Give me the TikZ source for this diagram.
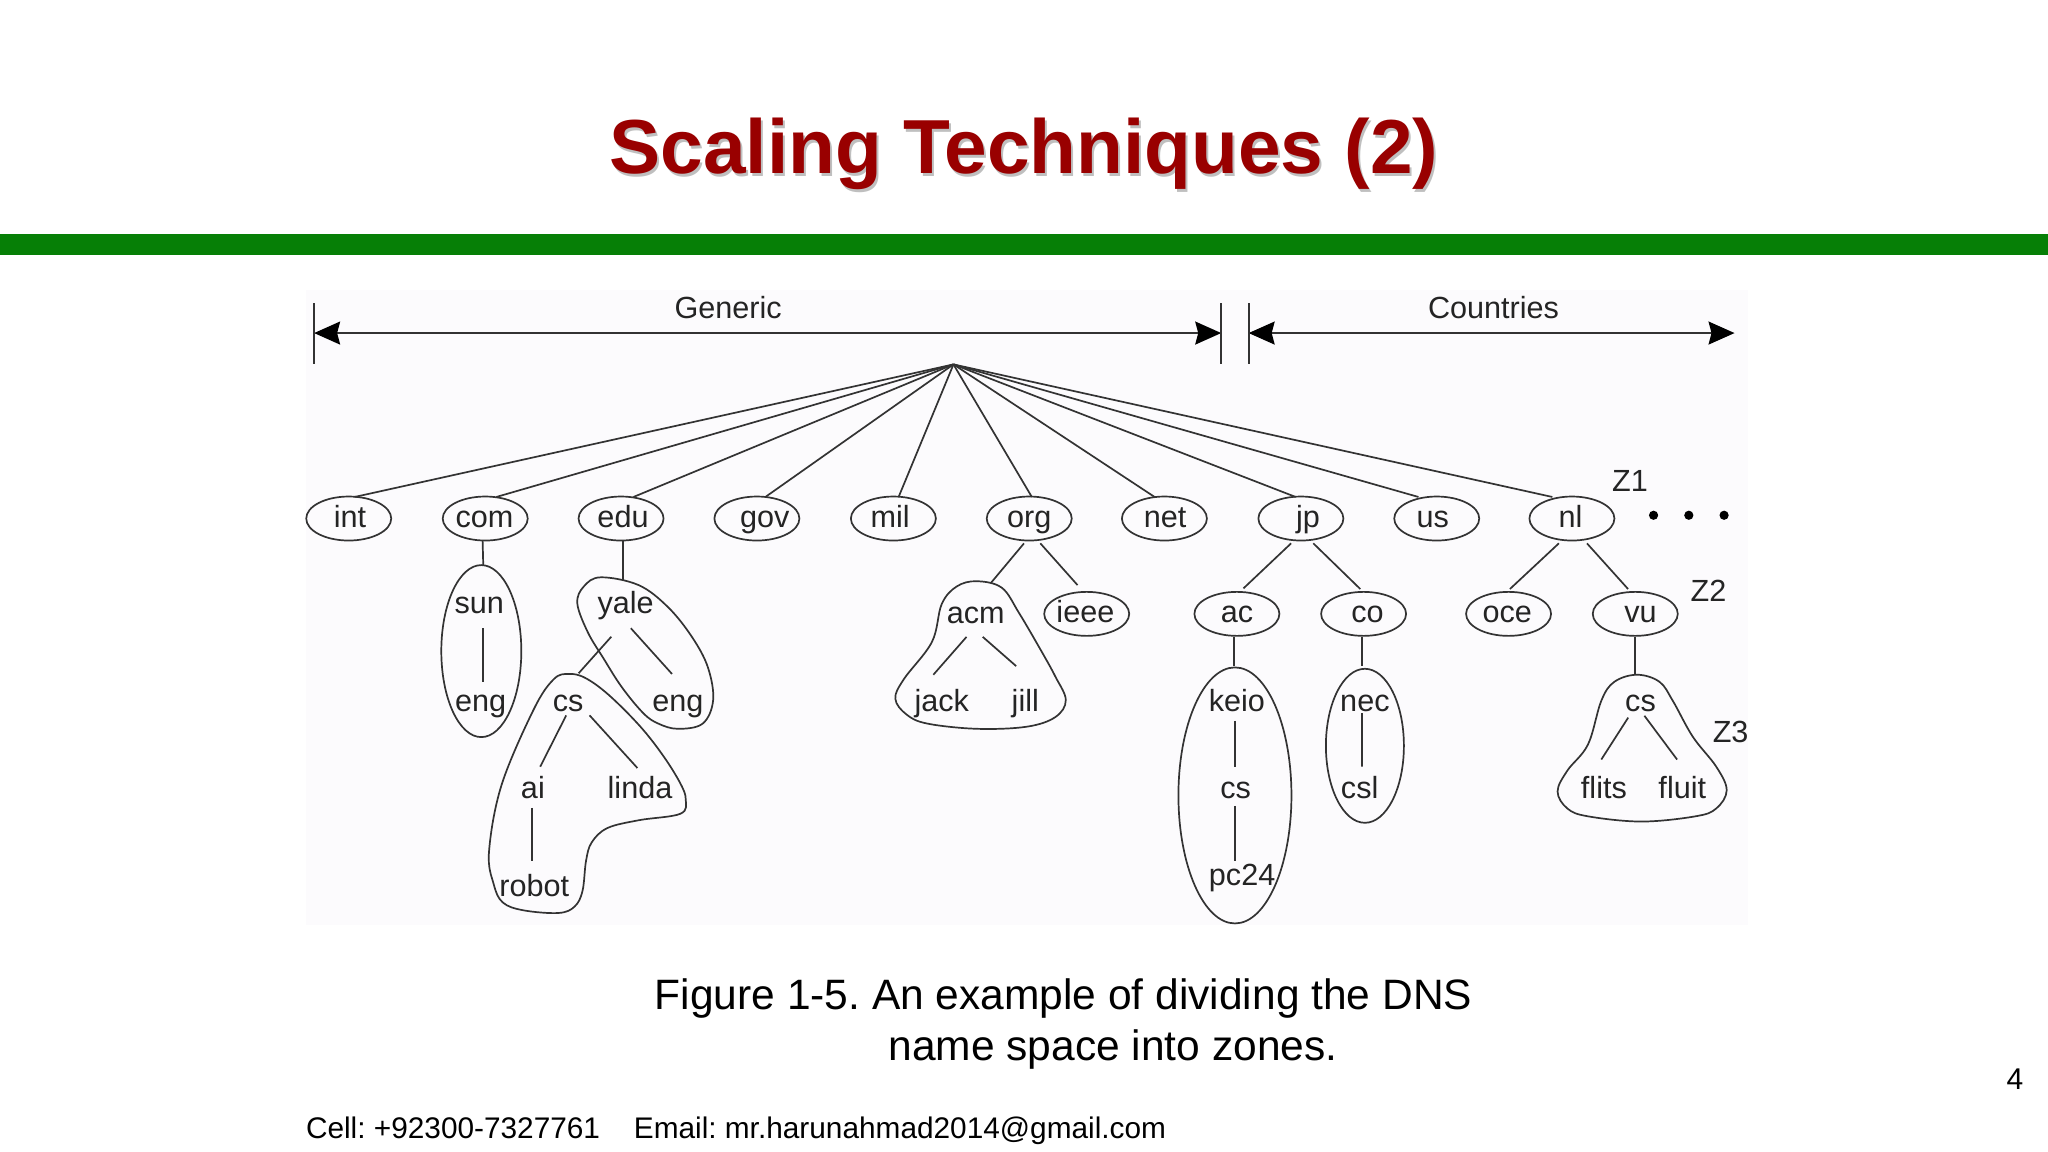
\documentclass[tikz,border=0pt]{standalone}
\usepackage{fontspec}
\setmainfont{Liberation Sans}
\frenchspacing
\usetikzlibrary{arrows.meta,calc,shapes.geometric}
\definecolor{ink}{HTML}{333333}
\definecolor{panel}{HTML}{FCFBFD}
\definecolor{titlered}{HTML}{990000}
\definecolor{barGreen}{HTML}{067F06}
\tikzset{
  ell/.style={draw=ink,line width=0.85pt,ellipse,inner sep=0pt,minimum width=42.5pt,minimum height=22pt},
  zoneell/.style={draw=ink,line width=0.85pt,ellipse,inner sep=0pt},
  lab/.style={text=ink!70!black,inner sep=0pt,font=\fontsize{15.3}{18}\selectfont,text height=12pt,text depth=2pt},
  wire/.style={draw=ink,line width=0.85pt},
  zone/.style={draw=ink,line width=0.85pt},
  span/.style={draw=ink,line width=0.85pt,{Stealth[length=13pt,width=11.5pt,inset=1.5pt,color=black]}-{Stealth[length=13pt,width=11.5pt,inset=1.5pt,color=black]}},
  slidetext/.style={text=black,inner sep=0pt,anchor=base west},
}
\newcommand{\domain}[5]{\node[ell] (#1) at (#2,#3) {}; \node[lab] (#1t) at (#2+#5,#3-1) {#4};}
\newcommand{\leaf}[4]{\node[lab] (#1) at (#2,#3) {#4};}
\begin{document}
\begin{tikzpicture}[x=0.653pt,y=-0.653pt]
\useasboundingbox (0,0) rectangle (1568,882);
\fill[white] (0,0) rectangle (1568,882);
\fill[barGreen] (0,179) rectangle (1568,195);
\fill[panel] (234,222) rectangle (1338,708);

% title
\node[text=black!25,inner sep=0pt,font=\fontsize{38.3}{44}\bfseries\selectfont] (titleshadow) at (785.5,120) {Scaling Techniques (2)};
\node[text=titlered,inner sep=0pt,font=\fontsize{38.3}{44}\bfseries\selectfont] (title) at (784,118) {Scaling Techniques (2)};

% span arrows
\coordinate (gl) at (240.5,255); \coordinate (gr) at (935,255);
\coordinate (cl) at (956,255);   \coordinate (cr) at (1328,255);
\draw[span] (gl) -- (gr);
\draw[span] (cl) -- (cr);
\draw[wire] ($(gl)+(0,-23)$) -- ($(gl)+(0,24)$);
\draw[wire] ($(gr)+(0,-23)$) -- ($(gr)+(0,24)$);
\draw[wire] ($(cl)+(0,-23)$) -- ($(cl)+(0,24)$);
\leaf{generic}{557.5}{236}{Generic}
\leaf{countries}{1143.5}{236}{Countries}

% top level
\coordinate (root) at (730,279);
\domain{int}{267}{397}{int}{1}
\domain{com}{371.5}{397}{com}{-0.5}
\domain{edu}{475.5}{397}{edu}{1.5}
\domain{gov}{579.5}{397}{gov}{6}
\domain{mil}{684}{397}{mil}{-2.5}
\domain{org}{788}{397}{org}{0}
\domain{net}{891.5}{397}{net}{0.5}
\domain{jp}{996}{397}{jp}{5.5}
\domain{us}{1100}{397}{us}{-3}
\domain{nl}{1203.5}{397}{nl}{-1}
\foreach \n/\d in {int/4.5,com/8.5,edu/9.5,gov/6.5,mil/4,org/2,net/-7.5,jp/-4,us/-14,nl/-15} \draw[wire] (root) -- ($(\n)+(\d,-16.5)$);

% second level
\domain{ieee}{832}{470}{ieee}{-1}
\domain{ac}{947}{470}{ac}{0}
\domain{co}{1044}{470}{co}{3}
\domain{oce}{1155}{470}{oce}{-1}
\domain{vu}{1252}{470}{vu}{4}

% simple elliptical zones
\node[zoneell,minimum width=40pt,minimum height=86pt] (sunzone) at (368.5,498.5) {};
\node[zoneell,minimum width=56.5pt,minimum height=128pt] (keiozone) at (945.5,609) {};
\node[zoneell,minimum width=39pt,minimum height=77pt] (neczone) at (1045,571) {};

% free-form zones
\draw[zone] plot[smooth cycle,tension=0.6] coordinates {(442,462) (447,449) (460,442) (489,448) (511.6,465) (530,488) (542,511) (546,536) (538,554) (519,558) (504,554) (492.5,546) (476,526) (462,504) (450,484)};
\draw[zone] plot[smooth cycle,tension=0.6] coordinates {(435.4,516) (448,519) (466,532) (490,556) (508,579) (521,600) (525,612) (521,623) (489,628) (465,634) (453,645) (448.7,659) (446,682) (440,694) (427.7,699) (401,697) (385,691) (378,677) (374.4,652) (384,601) (408.7,543) (424,520)};
\draw[zone] plot[smooth cycle,tension=0.6] coordinates {(747.8,445) (767,450) (780,469) (797,498) (808,518) (816,536) (808,549) (786,556.4) (748,558) (710,554) (694,547) (685.5,535) (692,520) (713.5,491.5) (721,462.5) (732.5,449)};
\draw[zone] plot[smooth cycle,tension=0.6] coordinates {(1253.4,516.6) (1270.5,522) (1280.7,536.5) (1296,564) (1314,587) (1322,605) (1314,619) (1298,625) (1256.8,629) (1215.8,625) (1200,619) (1192.5,606) (1200,590) (1215.8,570) (1226,536.5) (1236,522)};

% leaf labels
\leaf{sun}{367}{462}{sun}
\leaf{engA}{368}{537}{eng}
\leaf{yale}{479}{462}{yale}
\leaf{engB}{519}{537}{eng}
\leaf{csA}{435}{537}{cs}
\leaf{ai}{408}{604}{ai}
\leaf{linda}{490}{604}{linda}
\leaf{robot}{409}{679}{robot}
\leaf{acm}{747}{470}{acm}
\leaf{jack}{721}{537}{jack}
\leaf{jill}{785}{537}{jill}
\leaf{keio}{947}{537}{keio}
\leaf{csB}{946}{604}{cs}
\leaf{pc}{951}{670}{pc24}
\leaf{nec}{1045}{537}{nec}
\leaf{csl}{1041}{604}{csl}
\leaf{csC}{1256}{537}{cs}
\leaf{flits}{1228}{604}{flits}
\leaf{fluit}{1288}{604}{fluit}
\leaf{zi}{1248}{369}{Z1}
\leaf{zii}{1308}{453}{Z2}
\leaf{ziii}{1325}{561}{Z3}

% dots
\foreach \x/\n in {1266/a,1293/b,1320/c} \fill[black] (\x,394.5) circle (2.3pt) coordinate (dot\n);

% links between levels
\draw[wire] ($(com)+(-2,17)$) -- ($(sun)+(3,-29)$);
\draw[wire] ($(edu)+(1.5,17)$) -- ($(yale)+(-2,-18)$);
\draw[wire] ($(org)+(-4,19)$) -- ($(acm)+(11.5,-23.5)$);
\draw[wire] ($(org)+(8.5,19)$) -- ($(ieee)+(-7,-22)$);
\draw[wire] ($(jp)+(-7.5,19)$) -- ($(ac)+(5,-19.5)$);
\draw[wire] ($(jp)+(9.5,19)$) -- ($(co)+(-2.5,-19)$);
\draw[wire] ($(nl)+(-10,19)$) -- ($(oce)+(1,-19)$);
\draw[wire] ($(nl)+(11.5,19)$) -- ($(vu)+(-5.5,-19)$);
\draw[wire] ($(ac)+(-2,17.5)$) -- ($(keio)+(-2,-27)$);
\draw[wire] ($(co)+(-1.2,17.5)$) -- ($(nec)+(-2.2,-27)$);
\draw[wire] (vu.south) -- ($(csC)+(-4,-20.5)$);

% links inside zones
\draw[wire] ($(sun)+(3,19)$) -- ($(engA)+(2,-15)$);
\draw[wire] ($(yale)+(-11,25.5)$) -- ($(csA)+(8,-21.5)$);
\draw[wire] ($(yale)+(4,19)$) -- ($(engB)+(-4.5,-21)$);
\draw[wire] ($(csA)+(-1.5,10.7)$) -- ($(ai)+(5.6,-17)$);
\draw[wire] ($(csA)+(16.4,10.7)$) -- ($(linda)+(-2,-16)$);
\draw[wire] ($(ai)+(-0.5,14.5)$) -- ($(robot)+(-1.5,-20)$);
\draw[wire] ($(acm)+(-7,17.6)$) -- ($(jack)+(-6.4,-20.4)$);
\draw[wire] ($(acm)+(5.4,17.6)$) -- ($(jill)+(-7,-27)$);
\draw[wire] ($(keio)+(-1.2,15)$) -- ($(csB)+(-0.2,-17)$);
\draw[wire] ($(csB)+(-0.2,13)$) -- ($(pc)+(-5.2,-11)$);
\draw[wire] ($(nec)+(-2.2,9)$) -- ($(csl)+(1.8,-17)$);
\draw[wire] ($(csC)+(-9.4,12.4)$) -- ($(flits)+(-2,-22.5)$);
\draw[wire] ($(csC)+(3,11)$) -- ($(fluit)+(-4,-22.5)$);

% slide text
\node[slidetext,font=\fontsize{21.25}{25}\selectfont] (capa) at (501,773) {Figure 1-5. An example of dividing the DNS};
\node[slidetext,font=\fontsize{21.25}{25}\selectfont] (capb) at (680,812) {name space into zones.};
\node[slidetext,font=\fontsize{14.9}{18}\selectfont] (cell) at (234,872) {Cell: +92300-7327761};
\node[slidetext,font=\fontsize{14.9}{18}\selectfont] (mail) at (485,872) {Email: mr.harunahmad2014@gmail.com};
\node[slidetext,font=\fontsize{15}{18}\selectfont] (pageno) at (1536,834) {4};
\end{tikzpicture}
\end{document}
